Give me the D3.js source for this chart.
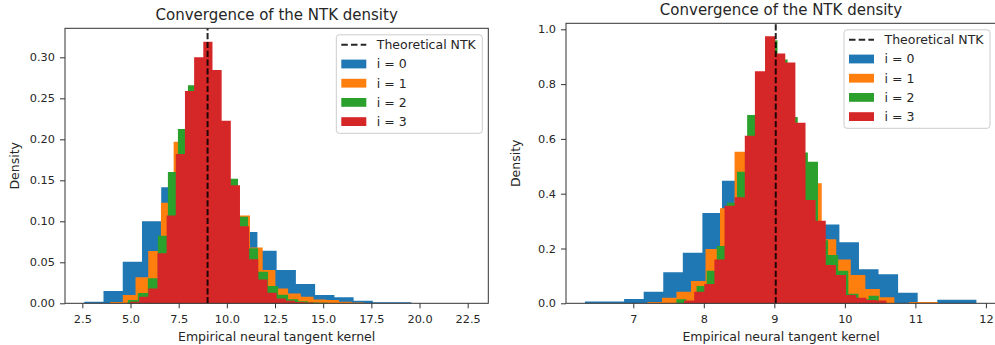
<!DOCTYPE html>
<html>
<head>
<meta charset="utf-8">
<script src="https://cdn.jsdelivr.net/npm/d3@7"></script>
<style>
  body { margin: 0; background: #fff; }
  text { font-family: "DejaVu Sans", sans-serif; fill: #262626; }
</style>
</head>
<body>
<div id="chart"></div>
<script>
var seriesNames = ["i = 0", "i = 1", "i = 2", "i = 3"];
var colors = ["#1f77b4", "#ff7f0e", "#2ca02c", "#d62728"];

// left panel: each series is a 20-bin density histogram (first edge, bin width, heights)
var leftStart = [2.60, 3.94, 4.86, 4.97];
var leftWidth = [0.9985, 0.66, 0.52, 0.476];
var leftDens0 = [0.002, 0.015, 0.0507, 0.100, 0.1415, 0.17, 0.16, 0.10, 0.087, 0.064, 0.0406, 0.0235, 0.0101, 0.0073, 0.0032, 0.0012, 0.0012, 0, 0, 0];
var leftDens1 = [0.0015, 0.0101, 0.0317, 0.0638, 0.1227, 0.197, 0.24, 0.27, 0.21, 0.14, 0.107, 0.068, 0.0406, 0.018, 0.012, 0.008, 0.0045, 0.004, 0.002, 0.001];
var leftDens2 = [0.004, 0.0125, 0.0305, 0.0825, 0.160, 0.2125, 0.266, 0.28, 0.27, 0.20, 0.152, 0.1056, 0.067, 0.0385, 0.021, 0.0105, 0.005, 0.0025, 0.001, 0.0008];
var leftDens3 = [0.002, 0.008, 0.018, 0.061, 0.107, 0.182, 0.259, 0.30, 0.319, 0.2845, 0.2227, 0.144, 0.094, 0.0537, 0.029, 0.013, 0.006, 0.003, 0.0015, 0.001];
var leftXTicks = [2.5, 5.0, 7.5, 10.0, 12.5, 15.0, 17.5, 20.0, 22.5];
var leftYTicks = [0, 0.05, 0.10, 0.15, 0.20, 0.25, 0.30];
var leftNtk = 9.0;

// right panel
var rightStart = [6.315, 7.2, 7.61, 7.72];
var rightWidth = [0.2775, 0.206, 0.1435, 0.1435];
var rightDens0 = [0.007, 0.007, 0.0157, 0.0425, 0.113, 0.1847, 0.330, 0.447, 0.50, 0.55, 0.50, 0.40, 0.288, 0.2225, 0.124, 0.106, 0.0387, 0, 0.013, 0.013];
var rightDens1 = [0.005, 0.020, 0.042, 0.081, 0.198, 0.347, 0.553, 0.65, 0.82, 0.85, 0.5, 0.438, 0.234, 0.160, 0.103, 0.052, 0.022, 0, 0.005, 0.005];
var rightDens2 = [0.015, 0.006, 0.063, 0.119, 0.209, 0.367, 0.48, 0.687, 0.80, 0.96, 0.89, 0.68, 0.55, 0.517, 0.23, 0.176, 0.119, 0.035, 0.015, 0.028];
var rightDens3 = [0.01, 0.0425, 0.0705, 0.160, 0.356, 0.3866, 0.6115, 0.847, 0.975, 0.912, 0.879, 0.659, 0.377, 0.3015, 0.14, 0.103, 0.03, 0.02, 0.012, 0.01];
var rightXTicks = [7, 8, 9, 10, 11, 12];
var rightYTicks = [0, 0.2, 0.4, 0.6, 0.8, 1.0];
var rightNtk = 9.02;

var svg = d3.select("#chart").append("svg")
    .attr("width", 995)
    .attr("height", 345);

function drawPanel(p) {
    var g = svg.append("g");
    var x = d3.scaleLinear().domain(p.xDomain).range([p.left, p.right]);
    var y = d3.scaleLinear().domain(p.yDomain).range([p.bottom, p.top]);

    // one step-shaped area per series so neighbouring bins have no seams
    var area = d3.area()
        .curve(d3.curveStepAfter)
        .x(function(b) { return x(b.x0); })
        .y0(y(0))
        .y1(function(b) { return y(b.d); });

    p.dens.forEach(function(dens, s) {
        var bins = dens.map(function(d, k) {
            return {x0: p.starts[s] + k * p.widths[s], d: d};
        });
        bins.push({x0: p.starts[s] + dens.length * p.widths[s], d: dens[dens.length - 1]});

        g.append("path")
            .datum(bins)
            .attr("d", area)
            .attr("fill", colors[s]);
    });

    // theoretical value
    g.append("line")
        .attr("x1", x(p.ntk)).attr("x2", x(p.ntk))
        .attr("y1", p.bottom).attr("y2", p.top)
        .attr("stroke", "#000")
        .attr("stroke-opacity", 0.85)
        .attr("stroke-width", 2)
        .attr("stroke-dasharray", "6.2,2.6");

    // spines
    g.append("rect")
        .attr("x", p.left).attr("y", p.top)
        .attr("width", p.right - p.left).attr("height", p.bottom - p.top)
        .attr("fill", "none")
        .attr("stroke", "#333")
        .attr("stroke-width", 1);

    var xAxis = g.append("g")
        .attr("transform", "translate(0," + p.bottom + ")")
        .call(d3.axisBottom(x).tickValues(p.xTicks).tickFormat(p.xFmt).tickSize(5).tickPadding(6.5));
    var yAxis = g.append("g")
        .attr("transform", "translate(" + p.left + ",0)")
        .call(d3.axisLeft(y).tickValues(p.yTicks).tickFormat(p.yFmt).tickSize(5).tickPadding(5));
    [xAxis, yAxis].forEach(function(a) {
        a.select(".domain").remove();
        a.selectAll("line").attr("stroke", "#333");
        a.selectAll("text").style("font-size", "11.3px").attr("fill", "#262626")
            .style("font-family", "'DejaVu Sans', sans-serif");
    });

    g.append("text")
        .attr("x", (p.left + p.right) / 2)
        .attr("y", p.top - 8)
        .attr("text-anchor", "middle")
        .style("font-size", "15px")
        .text("Convergence of the NTK density");

    g.append("text")
        .attr("x", (p.left + p.right) / 2)
        .attr("y", 341)
        .attr("text-anchor", "middle")
        .style("font-size", "12.5px")
        .text("Empirical neural tangent kernel");

    g.append("text")
        .attr("transform", "translate(" + (p.left - 46) + "," + ((p.top + p.bottom) / 2) + ") rotate(-90)")
        .attr("text-anchor", "middle")
        .style("font-size", "12.5px")
        .text("Density");

    // legend
    var lg = g.append("g").attr("transform", "translate(" + (p.right - 6 - 146) + "," + (p.top + 6.5) + ")");
    lg.append("rect")
        .attr("width", 146).attr("height", 98.5)
        .attr("rx", 3)
        .attr("fill", "#fff").attr("fill-opacity", 0.8)
        .attr("stroke", "#ccc").attr("stroke-width", 1);
    var rowY = function(k) { return 10 + k * 19.2; };
    lg.append("line")
        .attr("x1", 5).attr("x2", 30)
        .attr("y1", rowY(0)).attr("y2", rowY(0))
        .attr("stroke", "#000").attr("stroke-opacity", 0.85)
        .attr("stroke-width", 2)
        .attr("stroke-dasharray", "6.5,3.2");
    lg.append("text").attr("x", 40.5).attr("y", rowY(0) + 4.5)
        .style("font-size", "12.5px").text("Theoretical NTK");
    seriesNames.forEach(function(name, s) {
        lg.append("rect")
            .attr("x", 5).attr("y", rowY(s + 1) - 4.4)
            .attr("width", 25).attr("height", 8.8)
            .attr("fill", colors[s]);
        lg.append("text").attr("x", 40.5).attr("y", rowY(s + 1) + 4.5)
            .style("font-size", "12.5px").text(name);
    });
}

drawPanel({
    left: 65, right: 488.3, top: 28.3, bottom: 303.3,
    xDomain: [1.60, 23.57], yDomain: [0, 0.3354],
    starts: leftStart, widths: leftWidth,
    dens: [leftDens0, leftDens1, leftDens2, leftDens3],
    xTicks: leftXTicks, yTicks: leftYTicks,
    xFmt: d3.format(".1f"), yFmt: d3.format(".2f"),
    ntk: leftNtk
});

drawPanel({
    left: 566, right: 996, top: 23.3, bottom: 303.3,
    xDomain: [6.046, 12.143], yDomain: [0, 1.0219],
    starts: rightStart, widths: rightWidth,
    dens: [rightDens0, rightDens1, rightDens2, rightDens3],
    xTicks: rightXTicks, yTicks: rightYTicks,
    xFmt: d3.format("d"), yFmt: d3.format(".1f"),
    ntk: rightNtk
});
</script>
</body>
</html>
